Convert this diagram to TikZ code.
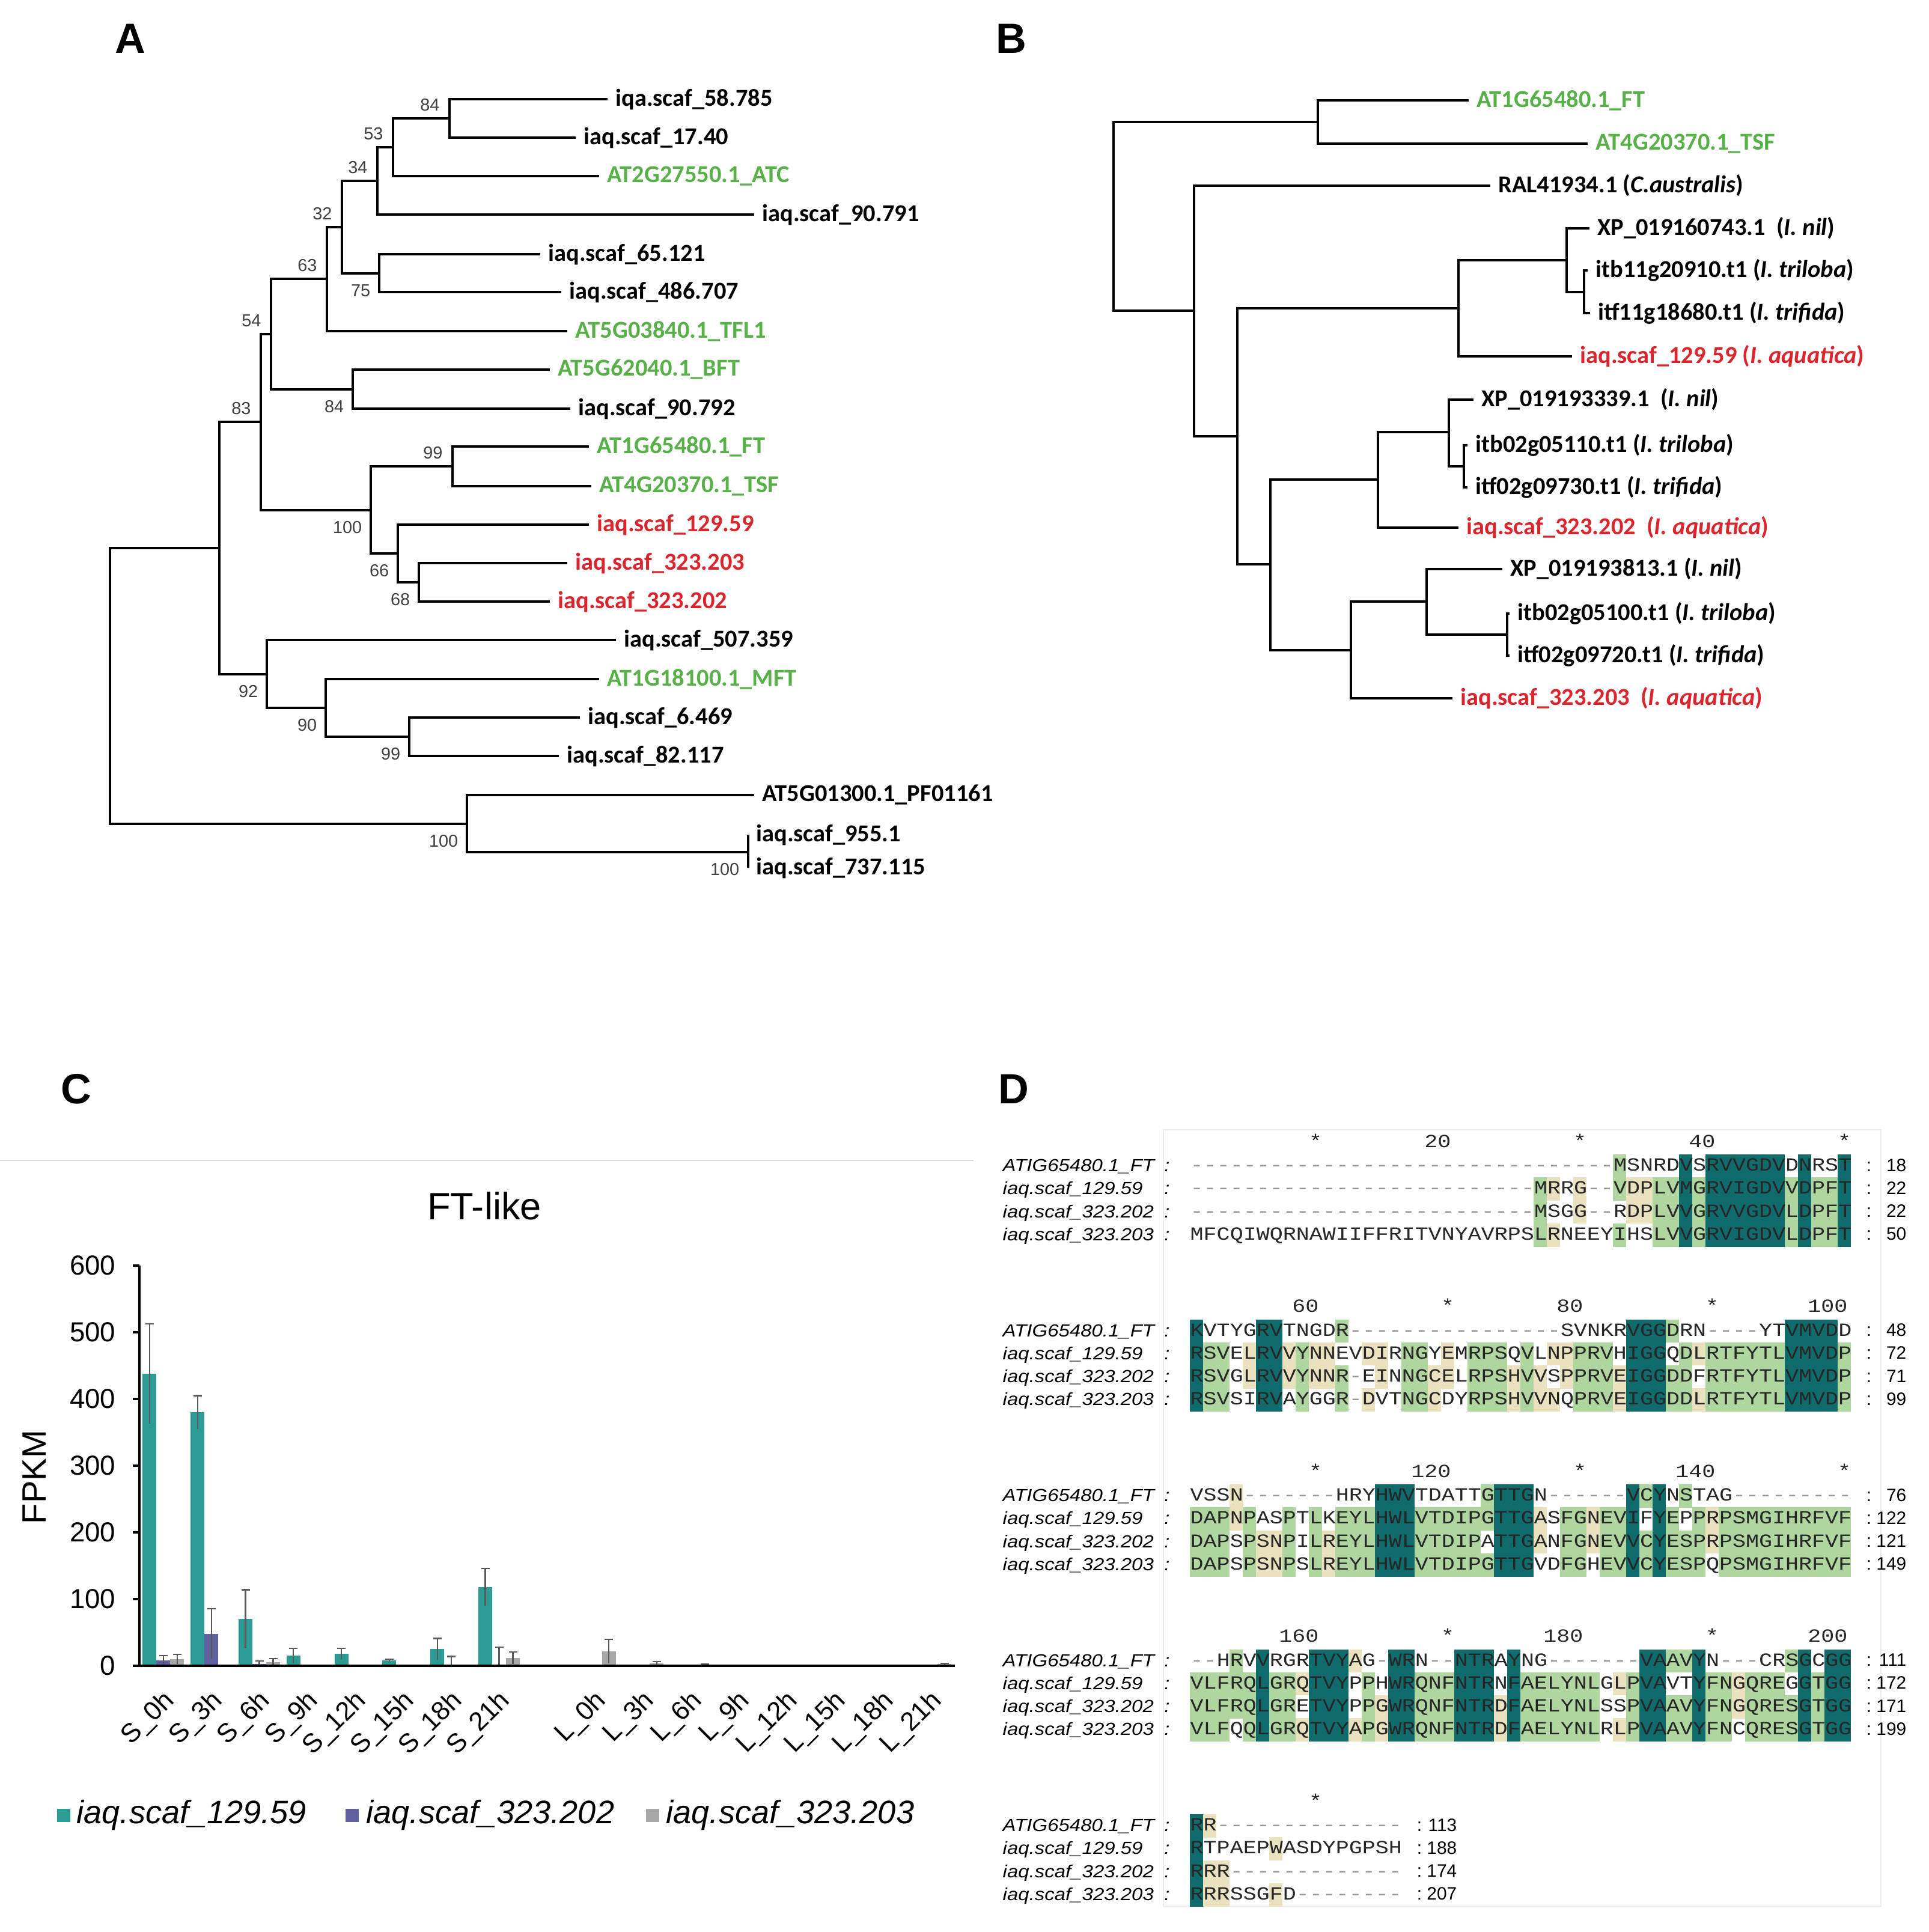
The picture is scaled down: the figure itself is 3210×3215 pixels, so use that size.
\documentclass[tikz,border=0pt]{standalone}
\usepackage{fontspec}
\setmainfont{Liberation Sans}
\newfontfamily\treefont{Carlito}
\newfontfamily\alnfont[FakeStretch=1.1853]{Liberation Mono}
\newfontfamily\namefont[FakeStretch=1.13]{Liberation Sans}
\usetikzlibrary{positioning}

\definecolor{atgreen}{RGB}{88,176,72}
\definecolor{iaqred}{RGB}{218,37,45}
\definecolor{barteal}{RGB}{44,155,147}
\definecolor{barpurple}{RGB}{96,96,160}
\definecolor{bargray}{RGB}{168,168,168}
\definecolor{alndark}{RGB}{16,108,108}
\definecolor{alngreen}{RGB}{176,214,160}
\definecolor{alnbeige}{RGB}{234,226,190}
\definecolor{gapgray}{RGB}{150,150,150}

\newcommand{\treelabel}{\treefont\bfseries\fontsize{11.5pt}{13pt}\selectfont}
\newcommand{\bootfont}{\fontsize{8.2pt}{9pt}\selectfont}
\newcommand{\panelfont}{\bfseries\fontsize{20pt}{22pt}\selectfont}
\newcommand{\seqfont}{\alnfont\fontsize{8.8pt}{10pt}\selectfont}
\newcommand{\seqnamefont}{\namefont\itshape\fontsize{8.3pt}{10pt}\selectfont}

% alignment rows: shade codes d/g/y/. and gaps in gray
\newcount\alncol
\def\shadecell#1{%
  \if d#1\fill[alndark] ({1980+22*\the\alncol},\alnrowy-18) rectangle ++(22.4,38.6);\fi
  \if g#1\fill[alngreen] ({1980+22*\the\alncol},\alnrowy-18) rectangle ++(22.4,38.6);\fi
  \if y#1\fill[alnbeige] ({1980+22*\the\alncol},\alnrowy-18) rectangle ++(22.4,38.6);\fi}
\def\shadenext#1{\ifx\relax#1\else\shadecell#1\advance\alncol by 1 \expandafter\shadenext\fi}
\def\alnseqnext#1{\ifx\relax#1\else\ifx-#1\textcolor{gapgray}{-}\else#1\fi\expandafter\alnseqnext\fi}
\newcommand{\alnseq}[1]{\alnseqnext#1\relax}
\newcommand{\alnrow}[5]{%
  \pgfmathsetmacro{\alnrowy}{1939+274.5*#1+38.3*#2}%
  \alncol=0
  \shadenext#3\relax
  \pgfmathsetmacro{\alnend}{1980+22*\the\alncol}%
  \node[seqtext] (s#1r#2) at (1980,\alnrowy+9.5) {\alnseq{#4}};
  \node[seqnum, anchor=base] (c#1r#2) at (\alnend+30,\alnrowy+10) {:};
  \node[seqnum, anchor=base east] (e#1r#2) at (\alnend+93,\alnrowy+10) {#5};
}

\begin{document}
\begin{tikzpicture}[x=0.01cm, y=-0.01cm,
  branch/.style={line width=1.1pt},
  leaf/.style={anchor=west, inner xsep=3.6pt, inner ysep=0pt, font=\treelabel},
  bs/.style={inner sep=0pt, font=\bootfont, text=black!75},
  panel/.style={font=\panelfont},
  ticklab/.style={inner sep=0pt, font=\fontsize{13pt}{15pt}\selectfont},
  xlab/.style={inner sep=0pt, rotate=45, anchor=east, font=\fontsize{12.5pt}{14pt}\selectfont},
  legtext/.style={anchor=west, inner sep=0pt, font=\itshape\fontsize{15.4pt}{17pt}\selectfont},
  errbar/.style={draw=black!65, line width=0.6pt},
  seqtext/.style={anchor=base west, inner sep=0pt, font=\seqfont, text=black!85},
  seqname/.style={anchor=base west, inner sep=0pt, font=\seqnamefont},
  seqnum/.style={inner sep=0pt, font=\fontsize{8.5pt}{10pt}\selectfont}]
\fill[white] (0,0) rectangle (3210,3215);
\useasboundingbox (0,0) rectangle (3210,3215);

\node[panel] (pA) at (217,64) {A};
\node[panel] (pB) at (1683,64) {B};
\node[panel] (pC) at (127,1812) {C};
\node[panel] (pD) at (1687,1812) {D};

% A
\node[leaf] (a1) at (1011,165) {iqa.scaf\_58.785};
\node[leaf] (a2) at (958,229) {iaq.scaf\_17.40};
\node[leaf, text=atgreen] (a3) at (997,293) {AT2G27550.1\_ATC};
\node[leaf] (a4) at (1255,357) {iaq.scaf\_90.791};
\node[leaf] (a5) at (899,423) {iaq.scaf\_65.121};
\node[leaf] (a6) at (934,486) {iaq.scaf\_486.707};
\node[leaf, text=atgreen] (a7) at (944,551) {AT5G03840.1\_TFL1};
\node[leaf, text=atgreen] (a8) at (915,615) {AT5G62040.1\_BFT};
\node[leaf] (a9) at (949,680) {iaq.scaf\_90.792};
\node[leaf, text=atgreen] (a10) at (980,743) {AT1G65480.1\_FT};
\node[leaf, text=atgreen] (a11) at (984,809) {AT4G20370.1\_TSF};
\node[leaf, text=iaqred] (a12) at (980,873) {iaq.scaf\_129.59};
\node[leaf, text=iaqred] (a13) at (944,937) {iaq.scaf\_323.203};
\node[leaf, text=iaqred] (a14) at (915,1001) {iaq.scaf\_323.202};
\node[leaf] (a15) at (1025,1065) {iaq.scaf\_507.359};
\node[leaf, text=atgreen] (a16) at (997,1130) {AT1G18100.1\_MFT};
\node[leaf] (a17) at (965,1194) {iaq.scaf\_6.469};
\node[leaf] (a18) at (930,1258) {iaq.scaf\_82.117};
\node[leaf] (a19) at (1255,1323) {AT5G01300.1\_PF01161};
\node[leaf] (a20) at (1245,1389) {iaq.scaf\_955.1};
\node[leaf] (a21) at (1245,1444) {iaq.scaf\_737.115};

\coordinate (n84a) at (748,197);
\coordinate (n53) at (654,245);
\coordinate (n34) at (628,301);
\coordinate (n75) at (631,455);
\coordinate (n32) at (569,378);
\coordinate (n63) at (544,464);
\coordinate (n84b) at (587,648);
\coordinate (n54) at (451,556);
\coordinate (n99a) at (753,776);
\coordinate (n68) at (697,969);
\coordinate (n66) at (662,921);
\coordinate (n100a) at (617,849);
\coordinate (n83) at (434,702);
\coordinate (n99b) at (681,1226);
\coordinate (n90) at (542,1178);
\coordinate (n92) at (444,1122);
\coordinate (nmid) at (365,912);
\coordinate (n100c) at (1245,1418);
\coordinate (n100b) at (777,1371);
\coordinate (rootA) at (183,1142);

\draw[branch] (a1.west) -| (n84a) |- (a2.west);
\draw[branch] (n84a) -| (n53) |- (a3.west);
\draw[branch] (n53) -| (n34) |- (a4.west);
\draw[branch] (a5.west) -| (n75) |- (a6.west);
\draw[branch] (n34) -| (n32) |- (n75);
\draw[branch] (n32) -| (n63) |- (a7.west);
\draw[branch] (a8.west) -| (n84b) |- (a9.west);
\draw[branch] (n63) -| (n54) |- (n84b);
\draw[branch] (a10.west) -| (n99a) |- (a11.west);
\draw[branch] (a13.west) -| (n68) |- (a14.west);
\draw[branch] (a12.west) -| (n66) |- (n68);
\draw[branch] (n99a) -| (n100a) |- (n66);
\draw[branch] (n54) -| (n83) |- (n100a);
\draw[branch] (a17.west) -| (n99b) |- (a18.west);
\draw[branch] (a16.west) -| (n90) |- (n99b);
\draw[branch] (a15.west) -| (n92) |- (n90);
\draw[branch] (n83) -| (nmid) |- (n92);
\draw[branch] (a20.west) -| (n100c) |- (a21.west);
\draw[branch] (a19.west) -| (n100b) |- (n100c);
\draw[branch] (nmid) -| (rootA) |- (n100b);

\node[bs, above left=3.4pt and 4.5pt of n84a] (bs1) {84};
\node[bs, above left=3.4pt and 4.5pt of n53] (bs2) {53};
\node[bs, above left=3.4pt and 4.5pt of n34] (bs3) {34};
\node[bs, above left=3.4pt and 4.5pt of n32] (bs4) {32};
\node[bs, above left=3.4pt and 4.5pt of n63] (bs5) {63};
\node[bs, above left=3.4pt and 4.5pt of n54] (bs6) {54};
\node[bs, above left=3.4pt and 4.5pt of n83] (bs7) {83};
\node[bs, above left=3.4pt and 4.5pt of n99a] (bs8) {99};
\node[bs, below left=5pt and 4pt of n75] (bs9) {75};
\node[bs, below left=5pt and 4pt of n84b] (bs10) {84};
\node[bs, below left=5pt and 4pt of n100a] (bs11) {100};
\node[bs, below left=5pt and 4pt of n66] (bs12) {66};
\node[bs, below left=5pt and 4pt of n68] (bs13) {68};
\node[bs, below left=5pt and 4pt of n92] (bs14) {92};
\node[bs, below left=5pt and 4pt of n90] (bs15) {90};
\node[bs, below left=5pt and 4pt of n99b] (bs16) {99};
\node[bs, below left=5pt and 4pt of n100b] (bs17) {100};
\node[bs, below left=5pt and 4pt of n100c] (bs18) {100};

% B
\node[leaf, text=atgreen] (b1) at (2444,167) {AT1G65480.1\_FT};
\node[leaf, text=atgreen] (b2) at (2642,239) {AT4G20370.1\_TSF};
\node[leaf] (b3) at (2480,309) {RAL41934.1 (\textit{C.australis})};
\node[leaf] (b4) at (2645,380) {XP\_019160743.1\ \ (\textit{I. nil})};
\node[leaf] (b5) at (2642,450) {itb11g20910.t1 (\textit{I. triloba})};
\node[leaf] (b6) at (2646,521) {itf11g18680.t1 (\textit{I. trifida})};
\node[leaf, text=iaqred] (b7) at (2616,593) {iaq.scaf\_129.59 (\textit{I. aquatica})};
\node[leaf] (b8) at (2452,665) {XP\_019193339.1\ \ (\textit{I. nil})};
\node[leaf] (b9) at (2442,741) {itb02g05110.t1 (\textit{I. triloba})};
\node[leaf] (b10) at (2442,811) {itf02g09730.t1 (\textit{I. trifida})};
\node[leaf, text=iaqred] (b11) at (2427,878) {iaq.scaf\_323.202\ \ (\textit{I. aquatica})};
\node[leaf] (b12) at (2500,947) {XP\_019193813.1 (\textit{I. nil})};
\node[leaf] (b13) at (2512,1021) {itb02g05100.t1 (\textit{I. triloba})};
\node[leaf] (b14) at (2512,1091) {itf02g09720.t1 (\textit{I. trifida})};
\node[leaf, text=iaqred] (b15) at (2417,1162) {iaq.scaf\_323.203\ \ (\textit{I. aquatica})};

\coordinate (m1) at (2193,203);
\coordinate (m4) at (2607,433);
\coordinate (m5) at (2636,486);
\coordinate (m6) at (2427,513);
\coordinate (m9) at (2411,719);
\coordinate (m10) at (2436,776);
\coordinate (m8) at (2293,798);
\coordinate (m13) at (2374,1001);
\coordinate (m14) at (2508,1056);
\coordinate (m12) at (2248,1082);
\coordinate (m11) at (2114,939);
\coordinate (m7) at (2059,726);
\coordinate (m3) at (1987,517);
\coordinate (rootB) at (1853,360);

\draw[branch] (b1.west) -| (m1) |- (b2.west);
\draw[branch] (b5.west) -| (m5) |- (b6.west);
\draw[branch] (b4.west) -| (m4) |- (m5);
\draw[branch] (m4) -| (m6) |- (b7.west);
\draw[branch] (b9.west) -| (m10) |- (b10.west);
\draw[branch] (b8.west) -| (m9) |- (m10);
\draw[branch] (m9) -| (m8) |- (b11.west);
\draw[branch] (b13.west) -| (m14) |- (b14.west);
\draw[branch] (b12.west) -| (m13) |- (m14);
\draw[branch] (m13) -| (m12) |- (b15.west);
\draw[branch] (m8) -| (m11) |- (m12);
\draw[branch] (m6) -| (m7) |- (m11);
\draw[branch] (b3.west) -| (m3) |- (m7);
\draw[branch] (m1) -| (rootB) |- (m3);

% C
\draw[gray!30, line width=0.6pt] (0,1931) -- (1620,1931);
\node[font=\fontsize{18pt}{20pt}\selectfont] (ftlike) at (806,2007) {FT-like};
\node[rotate=90, font=\fontsize{16pt}{18pt}\selectfont] (fpkm) at (57,2458) {FPKM};
\foreach \v in {0,100,...,600} {
  \draw[line width=0.9pt] (221,{2772-1.11*\v}) -- (232,{2772-1.11*\v});
  \node[ticklab, anchor=east] (tick\v) at (193,{2772-1.11*\v}) {\v};
}
\foreach \s/\v/\er in {0/438/75,1/380/25,2/70/44,3/15/11,4/18/8,5/8/2,6/25/16,7/118/28} {
  \pgfmathsetmacro{\bx}{232+79.8*(\s+0.5)-23}
  \fill[barteal] (\bx-11.5,2772) rectangle (\bx+11.5,{2772-1.11*\v});
  \draw[errbar] (\bx,{2772-1.11*max(\v-\er,0)}) -- (\bx,{2772-1.11*(\v+\er)}) (\bx-7,{2772-1.11*(\v+\er)}) -- (\bx+7,{2772-1.11*(\v+\er)});
}
\foreach \s/\v/\er in {0/8/7,1/48/38,2/3/4,6/0/14,7/0/28} {
  \pgfmathsetmacro{\bx}{232+79.8*(\s+0.5)}
  \fill[barpurple] (\bx-11.5,2772) rectangle (\bx+11.5,{2772-1.11*\v});
  \draw[errbar] (\bx,{2772-1.11*max(\v-\er,0)}) -- (\bx,{2772-1.11*(\v+\er)}) (\bx-7,{2772-1.11*(\v+\er)}) -- (\bx+7,{2772-1.11*(\v+\er)});
}
\foreach \s/\v/\er in {0/10/7,2/5/6,7/12/9,9/22/18,10/4/2,11/2/1,16/3/1} {
  \pgfmathsetmacro{\bx}{232+79.8*(\s+0.5)+23}
  \fill[bargray] (\bx-11.5,2772) rectangle (\bx+11.5,{2772-1.11*\v});
  \draw[errbar] (\bx,{2772-1.11*max(\v-\er,0)}) -- (\bx,{2772-1.11*(\v+\er)}) (\bx-7,{2772-1.11*(\v+\er)}) -- (\bx+7,{2772-1.11*(\v+\er)});
}
\draw[line width=1.1pt] (232,2106) -- (232,2772);
\draw[line width=1.3pt] (230,2772) -- (1589,2772);
\foreach \s/\lab in {0/S\_0h,1/S\_3h,2/S\_6h,3/S\_9h,4/S\_12h,5/S\_15h,6/S\_18h,7/S\_21h,
    9/L\_0h,10/L\_3h,11/L\_6h,12/L\_9h,13/L\_12h,14/L\_15h,15/L\_18h,16/L\_21h}
  \node[xlab] (xl\s) at ({232+79.8*(\s+0.5)+12},2823) {\lab};
\fill[barteal] (95,3010) rectangle (117,3032);
\node[legtext] (lg1) at (127,3020) {iaq.scaf\_129.59};
\fill[barpurple] (575,3010) rectangle (597,3032);
\node[legtext] (lg2) at (609,3020) {iaq.scaf\_323.202};
\fill[bargray] (1075,3010) rectangle (1097,3032);
\node[legtext] (lg3) at (1108,3020) {iaq.scaf\_323.203};

% D
\draw[gray!15, line width=0.5pt] (1936,1880) rectangle (3130,3172);
\foreach \r/\nm in {0/ATIG65480.1\_FT,1/iaq.scaf\_129.59,2/iaq.scaf\_323.202,3/iaq.scaf\_323.203} {
  \foreach \b in {0,...,4} {
    \node[seqname] (nm\b\r) at (1668,{1949.5+274.5*\b+38.3*\r}) {\nm};
    \node[seqname, anchor=base] (cl\b\r) at (1942,{1949.5+274.5*\b+38.3*\r}) {:};
  }
}
\foreach \b/\c in {0/9,0/29,0/49,1/19,1/39,2/9,2/29,2/49,3/19,3/39,4/9}
  \node[seqtext, anchor=base] (star\b\c) at ({1991+22*\c},{1909+274.5*\b}) {*};
\foreach \b/\c/\t in {0/19/20,0/39/40,1/9/60,1/29/80,1/49/100,2/19/120,2/39/140,3/9/160,3/29/180,3/49/200}
  \node[seqtext, anchor=base east] (rul\b\c) at ({1997+22*\c},{1909+274.5*\b}) {\t};

\alnrow{0}{0}{.......... .......... .......... ..g....d.d ddddd.d..d}{---------- ---------- ---------- --MSNRDVSR VVGDVDNRST}{18}
\alnrow{0}{1}{.......... .......... ......gy.y ..gyyggdgd dddddgdggd}{---------- ---------- ------MRRG --VDPLVMGR VIGDVVDPFT}{22}
\alnrow{0}{2}{.......... .......... ......g..y ...yyggdgd dddddgdggd}{---------- ---------- ------MSGG --RDPLVVGR VVGDVLDPFT}{22}
\alnrow{0}{3}{.......... .......... ......gy.. ..g..ggdgd dddddgdggd}{MFCQIWQRNA WIIFFRITVN YAVRPSLRNE EYIHSLVVGR VIGDVLDPFT}{50}

\alnrow{1}{0}{d....dd... .g........ .......... ...dddg... .....dddd.}{KVTYGRVTNG DR-------- --------SV NKRVGGDRN- ---YTVMVDD}{48}
\alnrow{1}{1}{dgg.yddygy y..yy.gg.y .ggg.g.yyg gg.ddd.gyg gggggddddg}{RSVELRVVYN NEVDIRNGYE MRPSQVLNPP RVHIGGQDLR TFYTLVMVDP}{72}
\alnrow{1}{2}{dgg.yddygy yg..y.ggyy .gggygy.yg ggydddgg.g gggggddddg}{RSVGLRVVYN NR-EINNGCE LRPSHVVSPP RVEIGGDDFR TFYTLVMVDP}{71}
\alnrow{1}{3}{dgg..dd.g. .g.y..ggy. .gggygyy.g ggydddggyg gggggddddg}{RSVSIRVAYG GR-DVTNGCD YRPSHVVNQP RVEIGGDDLR TFYTLVMVDP}{99}

\alnrow{2}{0}{...y...... ....ddd... ..gddd.... ...dgd.g.. ..........}{VSSN------ -HRYHWVTDA TTGTTGN--- ---VCYNSTA G---------}{76}
\alnrow{2}{1}{gggyg..g.g .gggdddggg gggdddy.gg yggd.dg.gy gggggggggg}{DAPNPASPTL KEYLHWLVTD IPGTTGASFG NEVIFYEPPR PSMGIHRFVF}{122}
\alnrow{2}{2}{ggg.gyyg.g ygggdddggg gg.dddy.gg yggdgdgggy gggggggggg}{DAPSPSNPIL REYLHWLVTD IPATTGANFG NEVVCYESPR PSMGIHRFVF}{121}
\alnrow{2}{3}{ggg.gyyg.g ygggdddggg gggddd..gg .ggdgdggg. gggggggggg}{DAPSPSNPSL REYLHWLVTD IPGTTGVDFG HEVVCYESPQ PSMGIHRFVF}{149}

\alnrow{3}{0}{...g.d...d ddy..dd... ddd.d..... ....ddggd. .....gd.dd}{--HRVVRGRT VYAG-WRN-- NTRAYNG--- ----VAAVYN ---CRSGCGG}{111}
\alnrow{3}{1}{gggggdggyd dd.g.ddggg ddd.dggggg g.ygdd..dg gyggg.dgdd}{VLFRQLGRQT VYPPHWRQNF NTRNFAELYN LGLPVAVTYF NGQREGGTGG}{172}
\alnrow{3}{2}{gggggdgg.d dd.gyddggg dddydggggg g..gddggdg gyggggdgdd}{VLFRQLGRET VYPPGWRQNF NTRDFAELYN LSSPVAAVYF NGQRESGTGG}{171}
\alnrow{3}{3}{ggg.gdggyd ddygyddggg dddydggggg g.ygddggdg g.ggggdgdd}{VLFQQLGRQT VYAPGWRQNF NTRDFAELYN LRLPVAAVYF NCQRESGTGG}{199}

\alnrow{4}{0}{dy........ ......}{RR-------- ------}{113}
\alnrow{4}{1}{d.....y... ......}{RTPAEPWASD YPGPSH}{188}
\alnrow{4}{2}{dyy....... ......}{RRR------- ------}{174}
\alnrow{4}{3}{dyy...y... ......}{RRRSSGFD-- ------}{207}
\end{tikzpicture}
\end{document}
